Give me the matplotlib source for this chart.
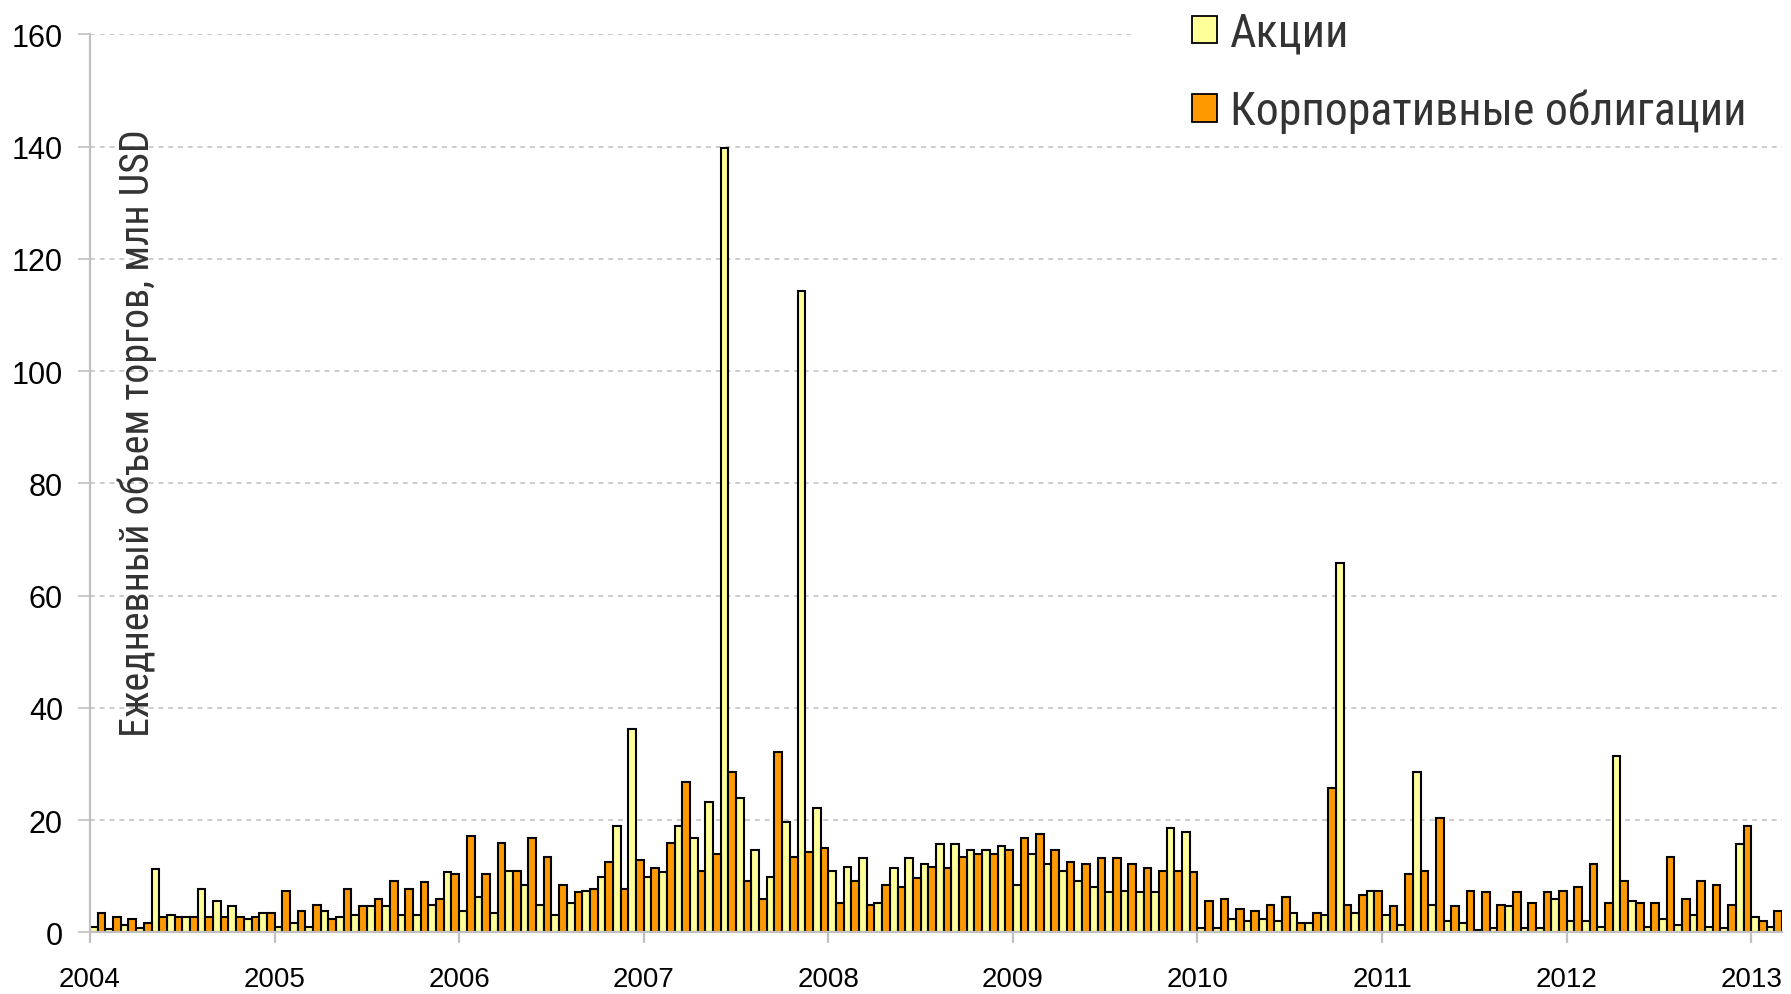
import numpy as np
import matplotlib
matplotlib.use("Agg")
import matplotlib.pyplot as plt
from matplotlib.patches import Patch, Rectangle

# monthly values, Jan 2004 .. Feb 2013
akcii = [1.0, 0.6, 1.3, 0.7, 11.3, 3.1, 2.8, 7.8, 5.6, 4.6, 2.4, 3.5,
         1.0, 1.7, 1.0, 3.8, 2.8, 3.1, 4.6, 4.6, 3.1, 3.1, 4.9, 10.7,
         3.8, 6.3, 3.5, 11.0, 8.5, 4.9, 3.1, 5.3, 7.4, 9.9, 18.9, 36.2,
         9.9, 10.7, 18.9, 16.8, 23.2, 139.8, 24.0, 14.6, 9.9, 19.6, 114.2, 22.2,
         11.0, 11.7, 13.2, 5.3, 11.4, 13.2, 12.1, 15.7, 15.7, 14.6, 14.6, 15.3,
         8.5, 13.9, 12.1, 11.0, 9.2, 8.1, 7.1, 7.4, 7.1, 7.1, 18.6, 17.8,
         0.7, 0.7, 2.4, 2.0, 2.4, 2.0, 3.5, 1.7, 3.1, 65.8, 3.5, 7.4,
         3.1, 1.3, 28.5, 4.9, 2.0, 1.7, 0.4, 0.7, 4.6, 0.7, 0.7, 6.0,
         2.0, 2.0, 1.0, 31.5, 5.6, 1.0, 2.4, 1.3, 3.1, 1.0, 0.7, 15.7,
         2.8, 1.0]
obligacii = [3.4, 2.8, 2.4, 1.7, 2.8, 2.8, 2.8, 2.8, 2.8, 2.8, 2.8, 3.5,
             7.4, 3.8, 4.9, 2.4, 7.8, 4.6, 6.0, 9.2, 7.8, 8.9, 6.0, 10.3,
             17.1, 10.3, 16.0, 11.0, 16.8, 13.5, 8.5, 7.1, 7.8, 12.5, 7.8, 12.8,
             11.4, 16.0, 26.7, 11.0, 13.9, 28.5, 9.2, 6.0, 32.2, 13.5, 14.3, 15.0,
             5.3, 9.2, 4.9, 8.5, 8.1, 9.6, 11.7, 11.4, 13.5, 13.9, 13.9, 14.6,
             16.8, 17.5, 14.6, 12.5, 12.1, 13.2, 13.2, 12.1, 11.4, 11.0, 11.0, 10.7,
             5.6, 6.0, 4.2, 3.8, 4.9, 6.3, 1.7, 3.5, 25.7, 4.9, 6.7, 7.4,
             4.6, 10.3, 11.0, 20.4, 4.6, 7.4, 7.1, 4.9, 7.1, 5.3, 7.1, 7.4,
             8.1, 12.1, 5.3, 9.2, 5.3, 5.3, 13.5, 6.0, 9.2, 8.5, 4.9, 18.9,
             2.0, 3.8]
years = [str(y) for y in range(2004, 2014)]
series_names = ["Акции", "Корпоративные облигации"]

yellow = "#FFFF99"
orange = "#FF9900"
narrow = ["Roboto Condensed", "PT Sans Narrow", "DejaVu Sans"]
plt.rcParams["font.family"] = ["Liberation Sans", "DejaVu Sans"]

fig = plt.figure(figsize=(17.91, 9.95), dpi=100)
ax = fig.add_axes([90 / 1791, 1 - 933.3 / 995, 1692 / 1791, (933.3 - 35.4) / 995])

x = np.arange(len(akcii))
ax.bar(x, akcii, width=0.5, align="edge", color=yellow, edgecolor="black", lw=1.5, zorder=3)
ax.bar(x + 0.5, obligacii, width=0.5, align="edge", color=orange, edgecolor="black", lw=1.5, zorder=3)

ax.set_xlim(0, len(akcii))
ax.set_ylim(0, 160)
ax.set_yticks(np.arange(0, 161, 20))
ax.set_xticks(np.arange(0, len(akcii), 12))
ax.set_xticklabels(years)

ax.yaxis.grid(True, color="#bfbfbf", lw=1.1, linestyle=(0, (3.2, 3.2)), zorder=0)
for s in ["top", "right"]:
    ax.spines[s].set_visible(False)
for s in ["left", "bottom"]:
    ax.spines[s].set_color("#c0c0c0")
    ax.spines[s].set_linewidth(1.6)
    ax.spines[s].set_zorder(4)

ax.tick_params(axis="y", length=8.5, width=1.2, color="#c0c0c0", pad=11, labelsize=22)
ax.tick_params(axis="x", length=8, width=1.6, color="#c0c0c0", pad=16, labelsize=20)

ax.text(0.028, 0.2186, "Ежедневный объем торгов, млн USD", transform=ax.transAxes,
        rotation=90, ha="center", va="bottom", fontsize=28.8, color="#333333",
        family=narrow)

# white box behind the legend
fig.patches.append(Rectangle((1131 / 1791, 1 - 140 / 995), 1, 1, transform=fig.transFigure,
                             facecolor="white", edgecolor="none", zorder=1))

handles = [Patch(facecolor=yellow, edgecolor="black", lw=1.3),
           Patch(facecolor=orange, edgecolor="black", lw=1.3)]
leg = fig.legend(handles, series_names, loc="upper left",
                 bbox_to_anchor=(1164 / 1791, 1.016), frameon=False,
                 prop={"family": narrow, "size": 33}, handlelength=0.55,
                 handleheight=0.55, handletextpad=0.3, labelspacing=0.75,
                 borderpad=0.1)
for t in leg.get_texts():
    t.set_color("#333333")

fig.savefig("out.png", dpi=100)
